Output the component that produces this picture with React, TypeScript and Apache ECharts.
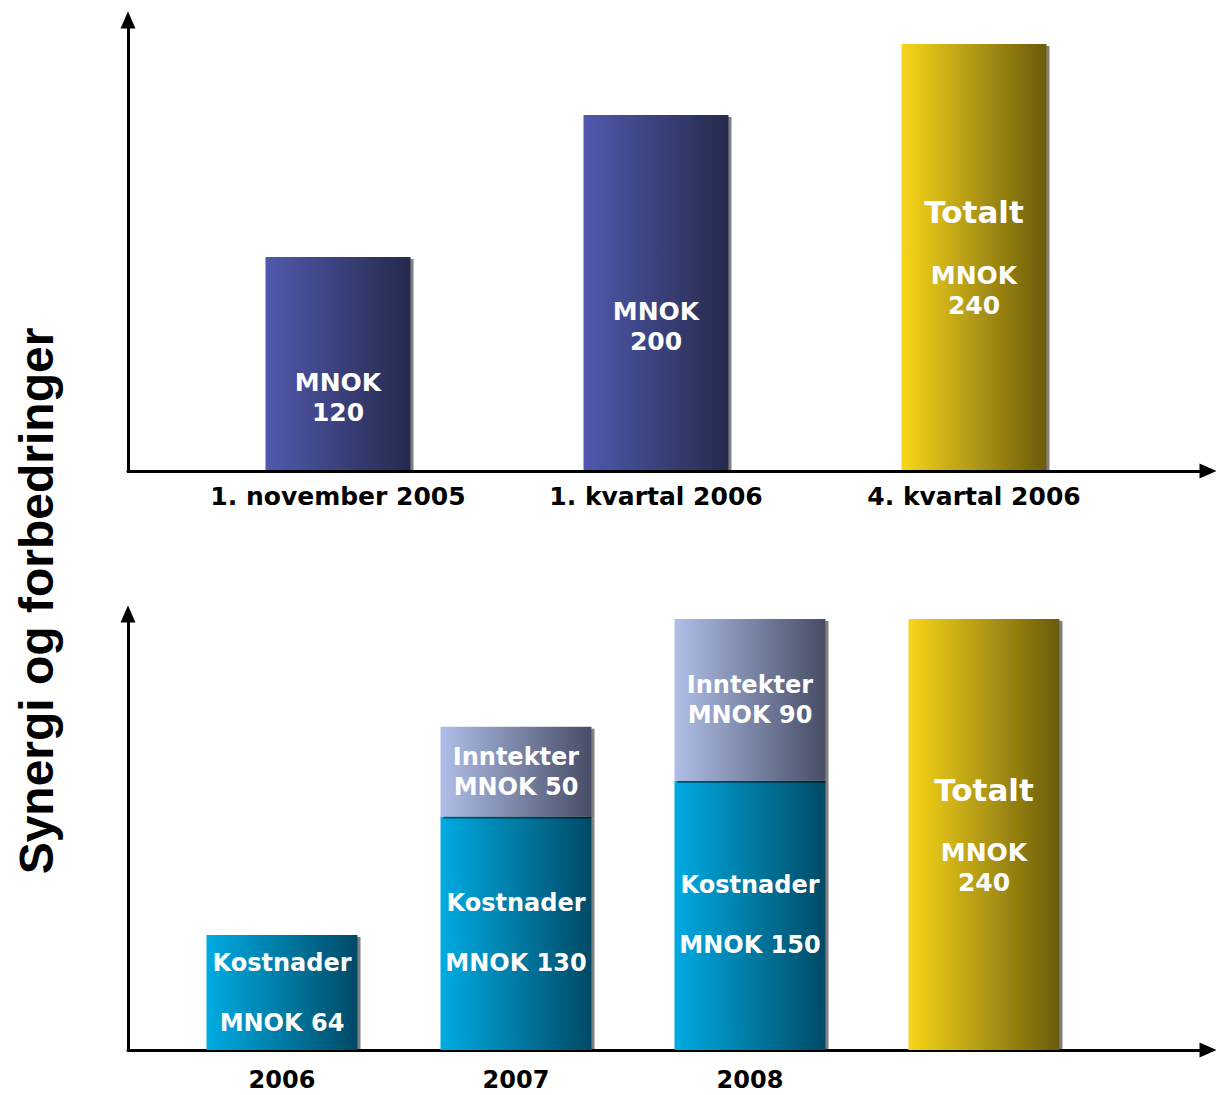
import React, { useEffect, useRef } from "react";
import * as echarts from "echarts";

// ---------- data ----------
const topCategories = ["1. november 2005", "1. kvartal 2006", "4. kvartal 2006"];
const topStepValues = [120, 200, null];
const topTotalValues = [null, null, 240];

const bottomCategories = ["2006", "2007", "2008", "Totalt"];
const kostnaderValues = [64, 130, 150, null];
const inntekterValues = [null, 50, 90, null];
const bottomTotalValues = [null, null, null, 240];

const yTitle = "Synergi og forbedringer";
const totalLabel = "Totalt";

// ---------- helpers ----------
const toData = (arr: (number | null)[]) => arr.map((v) => (v == null ? "-" : v));

const hGrad = (c0: string, c1: string) =>
  new echarts.graphic.LinearGradient(0, 0, 1, 0, [
    { offset: 0, color: c0 },
    { offset: 1, color: c1 },
  ]);

const FONT = '"DejaVu Sans", Verdana, sans-serif';

const shadow = {
  shadowColor: "rgba(0,0,0,0.5)",
  shadowOffsetX: 3,
  shadowOffsetY: 2,
  shadowBlur: 1,
};

const axisOnly = (gridIndex: number, which: "x" | "y") => ({
  type: "value",
  gridIndex,
  min: 0,
  max: 1,
  position: which === "x" ? "bottom" : "left",
  axisLine: {
    show: true,
    onZero: false,
    symbol: ["none", "triangle"],
    symbolSize: [15, 17],
    lineStyle: { color: "#000", width: 3 },
  },
  axisTick: { show: false },
  axisLabel: { show: false },
  splitLine: { show: false },
});

const totalRich = {
  t: { fontSize: 31, fontWeight: "bold", color: "#fff", fontFamily: FONT, lineHeight: 36 },
  m: { fontSize: 25, fontWeight: "bold", color: "#fff", fontFamily: FONT, lineHeight: 30 },
};

const catLabel = {
  color: "#000",
  fontFamily: FONT,
  fontWeight: "bold",
  fontSize: 25,
  interval: 0,
};

export default function App() {
  const ref = useRef<HTMLDivElement>(null);

  useEffect(() => {
    if (!ref.current) return;
    const chart = echarts.init(ref.current, undefined, { renderer: "svg" });

    const option: any = {
      animation: false,
      backgroundColor: "#fff",
      grid: [
        { left: 128, right: 8, top: 20, bottom: 624 },
        { left: 179, width: 954, top: 44, bottom: 625 },
        { left: 128, right: 8, top: 614, bottom: 45 },
        { left: 165, width: 936, top: 619, bottom: 45 },
      ],
      xAxis: [
        axisOnly(0, "x"),
        {
          type: "category",
          gridIndex: 1,
          data: topCategories,
          axisLine: { show: false },
          axisTick: { show: false },
          axisLabel: { ...catLabel, margin: 14 },
        },
        axisOnly(2, "x"),
        {
          type: "category",
          gridIndex: 3,
          data: bottomCategories,
          axisLine: { show: false },
          axisTick: { show: false },
          axisLabel: {
            ...catLabel,
            fontSize: 24,
            lineHeight: 26,
            margin: 17,
            formatter: (v: string) => (v === totalLabel ? "" : v),
          },
        },
      ],
      yAxis: [
        axisOnly(0, "y"),
        { type: "value", gridIndex: 1, min: 0, max: 240, show: false },
        axisOnly(2, "y"),
        { type: "value", gridIndex: 3, min: 0, max: 240, show: false },
      ],
      series: [
        {
          type: "bar",
          xAxisIndex: 1,
          yAxisIndex: 1,
          stack: "top",
          barWidth: 145,
          data: toData(topStepValues),
          itemStyle: { color: hGrad("#5059ad", "#252a4c"), ...shadow },
          label: {
            show: true,
            position: "inside",
            offset: [0, 34],
            color: "#fff",
            fontFamily: FONT,
            fontWeight: "bold",
            fontSize: 25,
            lineHeight: 30,
            formatter: (p: any) => `MNOK\n${p.value}`,
          },
        },
        {
          type: "bar",
          xAxisIndex: 1,
          yAxisIndex: 1,
          stack: "top",
          barWidth: 150,
          data: toData(topTotalValues),
          itemStyle: { color: hGrad("#f8d61a", "#6a5b0d"), ...shadow },
          label: {
            show: true,
            position: "inside",
            color: "#fff",
            fontFamily: FONT,
            fontWeight: "bold",
            lineHeight: 30,
            formatter: (p: any) => `{t|${totalLabel}}\n\n{m|MNOK}\n{m|${p.value}}`,
            rich: totalRich,
          },
        },
        {
          type: "bar",
          xAxisIndex: 3,
          yAxisIndex: 3,
          stack: "bottom",
          barWidth: 151,
          data: toData(kostnaderValues),
          itemStyle: { color: hGrad("#00abe2", "#004a66"), ...shadow },
          label: {
            show: true,
            position: "inside",
            color: "#fff",
            fontFamily: FONT,
            fontWeight: "bold",
            fontSize: 24,
            lineHeight: 30,
            formatter: (p: any) => `Kostnader\n\nMNOK ${p.value}`,
          },
        },
        {
          type: "bar",
          xAxisIndex: 3,
          yAxisIndex: 3,
          stack: "bottom",
          barWidth: 151,
          data: toData(inntekterValues),
          itemStyle: { color: hGrad("#b0bfe8", "#474d66"), ...shadow },
          label: {
            show: true,
            position: "inside",
            color: "#fff",
            fontFamily: FONT,
            fontWeight: "bold",
            fontSize: 24,
            lineHeight: 30,
            formatter: (p: any) => `Inntekter\nMNOK ${p.value}`,
          },
        },
        {
          type: "bar",
          xAxisIndex: 3,
          yAxisIndex: 3,
          stack: "bottom",
          barWidth: 151,
          data: toData(bottomTotalValues),
          itemStyle: { color: hGrad("#f8d61a", "#6a5b0d"), ...shadow },
          label: {
            show: true,
            position: "inside",
            color: "#fff",
            fontFamily: FONT,
            fontWeight: "bold",
            lineHeight: 30,
            formatter: (p: any) => `{t|${totalLabel}}\n\n{m|MNOK}\n{m|${p.value}}`,
            rich: totalRich,
          },
        },
      ],
      graphic: [
        {
          type: "text",
          x: 36,
          y: 601,
          rotation: Math.PI / 2,
          style: {
            text: yTitle,
            font: 'bold 48px "Liberation Sans", Arial, sans-serif',
            fill: "#000",
            textAlign: "center",
            textVerticalAlign: "middle",
            align: "center",
            verticalAlign: "middle",
          },
        },
      ],
    };

    chart.setOption(option);
    return () => chart.dispose();
  }, []);

  return (
    <div
      ref={ref}
      style={{ position: "absolute", left: 0, top: 0, width: 1216, height: 1095 }}
    />
  );
}
